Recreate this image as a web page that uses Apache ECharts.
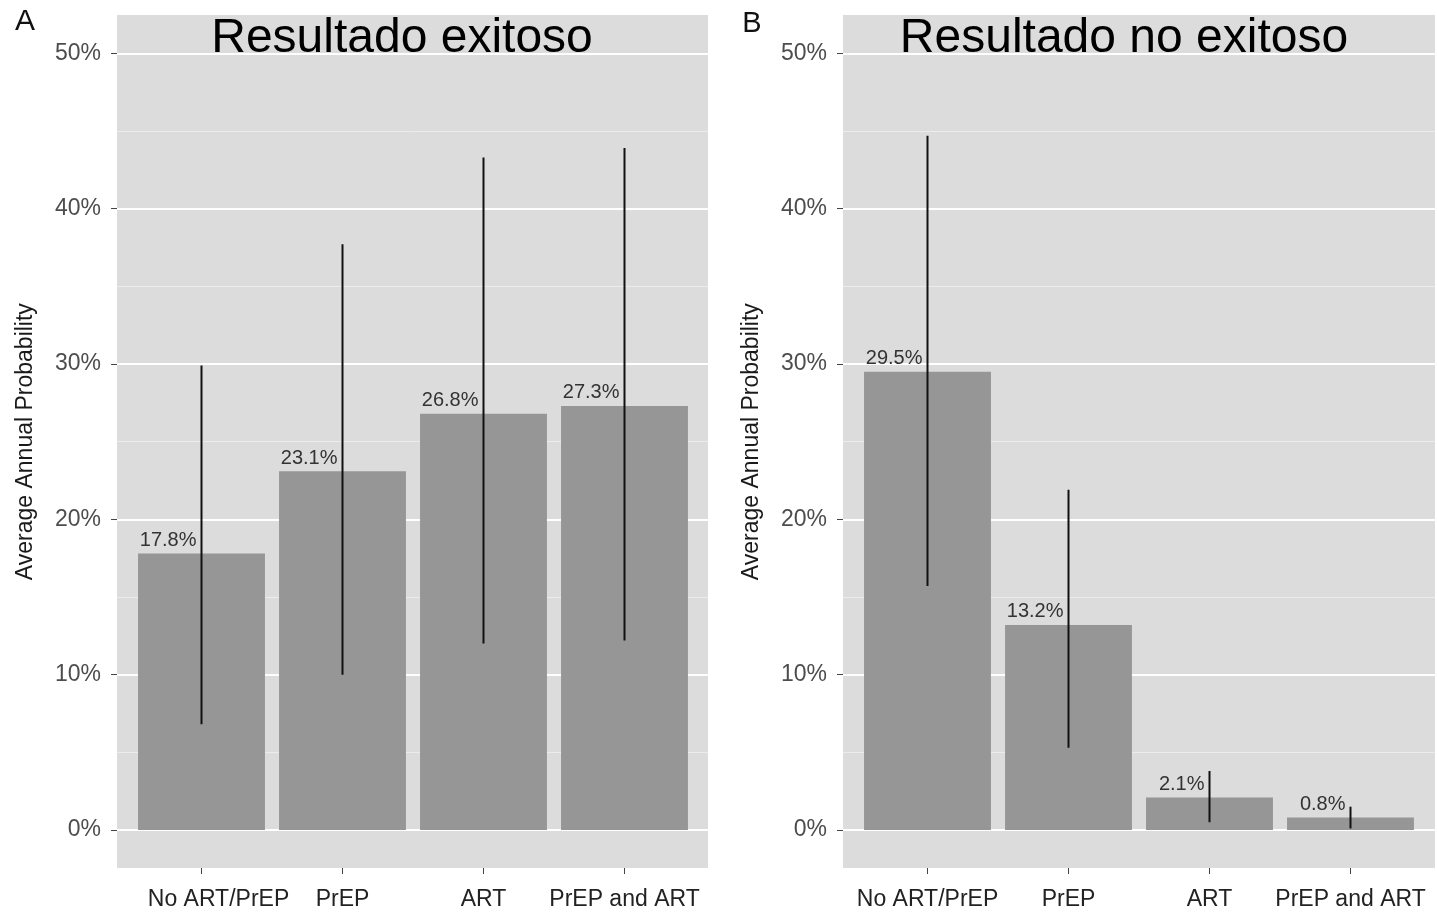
<!DOCTYPE html>
<html>
<head>
<meta charset="utf-8">
<script src="https://cdn.jsdelivr.net/npm/echarts@6/dist/echarts.min.js"></script>
<style>html,body{margin:0;padding:0;background:#fff;}#chart{width:1437px;height:912px;}</style>
</head>
<body>
<div id="chart"></div>
<script>
const categories = ['No ART/PrEP', 'PrEP', 'ART', 'PrEP and ART'];
const exitosoValues = [17.8, 23.1, 26.8, 27.3];
const exitosoLower = [6.8, 10.0, 12.0, 12.2];
const exitosoUpper = [29.9, 37.7, 43.3, 43.9];
const noExitosoValues = [29.5, 13.2, 2.1, 0.8];
const noExitosoLower = [15.7, 5.3, 0.5, 0.1];
const noExitosoUpper = [44.7, 21.9, 3.8, 1.5];
const panelTitles = ['Resultado exitoso', 'Resultado no exitoso'];
const panelLetters = ['A', 'B'];
const yAxisTitle = 'Average Annual Probability';

const FONT = 'Liberation Sans, Arial, Helvetica, sans-serif';
const chart = echarts.init(document.getElementById('chart'), null, {renderer: 'canvas'});

const panels = [
  {bgLeft: 117, bgWidth: 591, barLeft: 131, values: exitosoValues, lower: exitosoLower, upper: exitosoUpper, firstLabelShift: 34},
  {bgLeft: 843, bgWidth: 592, barLeft: 857, values: noExitosoValues, lower: noExitosoLower, upper: noExitosoUpper, firstLabelShift: 0}
];
const TOP0 = 53.3, H = 776.7;

const grid = [], xAxis = [], yAxis = [], series = [];
panels.forEach((p, k) => {
  const g = k * 4;
  grid.push({left: p.bgLeft, width: p.bgWidth, top: 15, height: 853, show: true, backgroundColor: '#dcdcdc', borderWidth: 0, z: 0});
  grid.push({left: p.bgLeft, width: p.bgWidth, top: TOP0, height: H, show: false});
  grid.push({left: p.barLeft, width: 564, top: TOP0, height: H, show: false});
  grid.push({left: p.barLeft, width: 564, top: 15, height: 853, show: false});

  xAxis.push({gridIndex: g, type: 'value', show: false});
  xAxis.push({gridIndex: g + 1, type: 'value', show: false});
  xAxis.push({gridIndex: g + 2, type: 'category', data: categories, show: false});
  xAxis.push({
    gridIndex: g + 3, type: 'category', data: categories, position: 'bottom',
    axisLine: {show: false},
    axisTick: {show: true, length: 6, alignWithLabel: true, lineStyle: {color: '#444', width: 1}},
    axisLabel: {
      interval: 0, margin: 20, color: '#222', fontSize: 23, fontFamily: FONT,
      formatter: (v, i) => (i === 0 && p.firstLabelShift) ? '{s|' + v + '}' : v,
      rich: {s: {padding: [0, 0, 0, p.firstLabelShift], fontSize: 23, color: '#222', fontFamily: FONT}}
    },
    splitLine: {show: false}
  });

  yAxis.push({gridIndex: g, type: 'value', show: false});
  yAxis.push({
    gridIndex: g + 1, type: 'value', min: 0, max: 50, interval: 10,
    name: yAxisTitle, nameLocation: 'middle', nameRotate: 90, nameGap: 80,
    nameTextStyle: {fontSize: 23, color: '#1a1a1a', fontFamily: FONT},
    axisLine: {show: false},
    axisTick: {show: true, length: 6, lineStyle: {color: '#444', width: 1}},
    axisLabel: {margin: 16, color: '#4d4d4d', fontSize: 23, fontFamily: FONT, formatter: '{value}%'},
    splitLine: {show: true, lineStyle: {color: '#ffffff', width: 2}},
    minorTick: {show: false, splitNumber: 2},
    minorSplitLine: {show: true, lineStyle: {color: '#ececec', width: 1}}
  });
  yAxis.push({gridIndex: g + 2, type: 'value', min: 0, max: 50, show: false});
  yAxis.push({gridIndex: g + 3, type: 'value', show: false});

  series.push({
    type: 'bar', xAxisIndex: g + 2, yAxisIndex: g + 2, data: p.values, barWidth: '90%',
    itemStyle: {color: '#969696'},
    label: {
      show: true, position: 'top', distance: 3, align: 'right', offset: [-5, 0],
      color: '#333', fontSize: 20, fontFamily: FONT,
      formatter: (d) => d.value.toFixed(1) + '%'
    },
    z: 2
  });
  series.push({
    type: 'custom', xAxisIndex: g + 2, yAxisIndex: g + 2,
    data: categories.map((c, i) => [i, p.lower[i], p.upper[i]]),
    encode: {x: 0, y: [1, 2]},
    renderItem: (params, api) => {
      const a = api.coord([api.value(0), api.value(1)]);
      const b = api.coord([api.value(0), api.value(2)]);
      return {type: 'line', shape: {x1: a[0], y1: a[1], x2: b[0], y2: b[1]}, style: {stroke: '#111', lineWidth: 2}};
    },
    z: 3
  });
});

chart.setOption({
  animation: false,
  grid, xAxis, yAxis, series,
  graphic: [
    {type: 'text', x: 402, y: 39, z: 10, style: {text: panelTitles[0], font: '48px ' + FONT, fill: '#000', align: 'center', verticalAlign: 'middle'}},
    {type: 'text', x: 1124, y: 39, z: 10, style: {text: panelTitles[1], font: '48px ' + FONT, fill: '#000', align: 'center', verticalAlign: 'middle'}},
    {type: 'text', x: 25, y: 22, z: 10, style: {text: panelLetters[0], font: '30px ' + FONT, fill: '#111', align: 'center', verticalAlign: 'middle'}},
    {type: 'text', x: 752, y: 24, z: 10, style: {text: panelLetters[1], font: '29px ' + FONT, fill: '#111', align: 'center', verticalAlign: 'middle'}}
  ]
});
</script>
</body>
</html>
